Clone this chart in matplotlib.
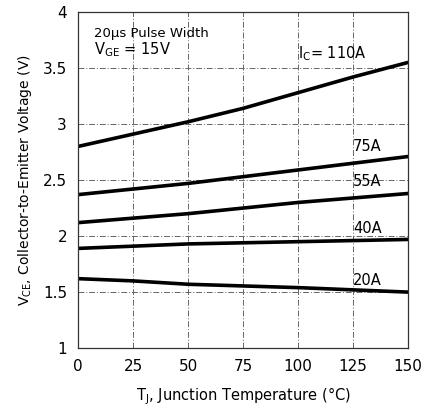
import matplotlib
matplotlib.use("Agg")
import matplotlib.pyplot as plt

temps = [0, 25, 50, 75, 100, 125, 150]
v_110 = [2.80, 2.91, 3.02, 3.14, 3.28, 3.42, 3.55]
v_75 = [2.37, 2.42, 2.47, 2.53, 2.59, 2.65, 2.71]
v_55 = [2.12, 2.16, 2.20, 2.25, 2.30, 2.34, 2.38]
v_40 = [1.89, 1.91, 1.93, 1.94, 1.95, 1.96, 1.97]
v_20 = [1.62, 1.60, 1.57, 1.555, 1.54, 1.52, 1.50]
series = [("I_C=110A", v_110), ("75A", v_75), ("55A", v_55), ("40A", v_40), ("20A", v_20)]

xticks = [0, 25, 50, 75, 100, 125, 150]
yticks = [1, 1.5, 2, 2.5, 3, 3.5, 4]
ytick_labels = ["1", "1.5", "2", "2.5", "3", "3.5", "4"]

plt.rcParams['font.family'] = ['DejaVu Sans']
fig = plt.figure(figsize=(4.27, 4.12), dpi=100)
ax = fig.add_axes([0.183, 0.155, 0.773, 0.816])

for name, vals in series:
    ax.plot(temps, vals, color='black', lw=2.6, solid_capstyle='butt')

ax.set_xlim(0, 150)
ax.set_ylim(1, 4)
ax.set_xticks(xticks)
ax.set_xticklabels([str(t) for t in xticks])
ax.set_yticks(yticks)
ax.set_yticklabels(ytick_labels)
ax.tick_params(length=0, labelsize=11, pad=8)
ax.grid(True, color='#666666', lw=0.7, ls=(0, (6, 2, 1, 2)))
for s in ax.spines.values():
    s.set_linewidth(0.9)
    s.set_color('#333333')

ax.text(7, 3.78, "20µs Pulse Width", fontsize=9.5)
ax.text(7, 3.62, r"V$_{\mathregular{GE}}$ = 15V", fontsize=10.5)
ax.text(100, 3.59, r"I$_{\mathregular{C}}$= 110A", fontsize=10.5)
ax.text(125, 2.76, "75A", fontsize=10.5)
ax.text(125, 2.45, "55A", fontsize=10.5)
ax.text(125, 2.03, "40A", fontsize=10.5)
ax.text(125, 1.56, "20A", fontsize=10.5)

ax.set_xlabel(r"T$_{\mathregular{J}}$, Junction Temperature (°C)", fontsize=10.5, labelpad=8)
ax.set_ylabel(r"V$_{\mathregular{CE}}$, Collector-to-Emitter Voltage (V)", fontsize=10, labelpad=6)

fig.savefig("out.png", dpi=100)
